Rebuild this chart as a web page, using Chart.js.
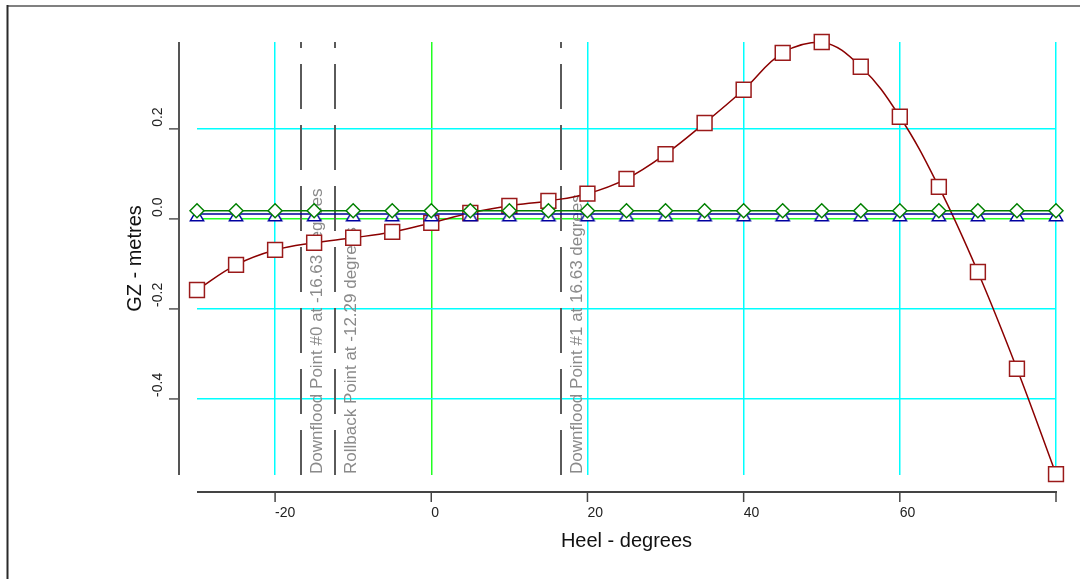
<!DOCTYPE html>
<html>
<head>
<meta charset="utf-8">
<title>GZ curve</title>
<script src="https://cdn.jsdelivr.net/npm/chart.js@4/dist/chart.umd.min.js"></script>
<style>
    html, body { margin: 0; padding: 0; background: #fff; }
    #wrap { width: 1080px; height: 579px; position: relative; }
</style>
</head>
<body>
<div id="wrap"><canvas id="gzChart" width="1080" height="579"></canvas></div>
<script>
// ===== data =====
const heelDeg = [-30, -25, -20, -15, -10, -5, 0, 5, 10, 15, 20, 25, 30, 35, 40, 45, 50, 55, 60, 65, 70, 75, 80];
const gzMetres = [-0.158, -0.102, -0.069, -0.053, -0.042, -0.029, -0.009, 0.013, 0.029, 0.040, 0.056, 0.089,
                  0.144, 0.213, 0.287, 0.369, 0.393, 0.338, 0.227, 0.071, -0.118, -0.333, -0.567];
const blueArm = [0.011, 0.011, 0.011, 0.011, 0.011, 0.011, 0.011, 0.011, 0.011, 0.011, 0.011, 0.011,
                 0.011, 0.011, 0.011, 0.011, 0.011, 0.011, 0.011, 0.011, 0.011, 0.011, 0.011];
const greenArm = [0.018, 0.018, 0.018, 0.018, 0.018, 0.018, 0.018, 0.018, 0.018, 0.018, 0.018, 0.018,
                  0.018, 0.018, 0.018, 0.018, 0.018, 0.018, 0.018, 0.018, 0.018, 0.018, 0.018];

const xRange = [-30, 80];
const yRange = [-0.569, 0.393];
const xTicks = [-20, 0, 20, 40, 60, 80];
const xTickLabels = ['-20', '0', '20', '40', '60', ''];
const yTicks = [-0.4, -0.2, 0.0, 0.2];
const yTickLabels = ['-0.4', '-0.2', '0.0', '0.2'];

const markerAngles = [-16.63, -12.29, 16.63];
const markerLabels = [
    'Downflood Point #0 at -16.63 degrees',
    'Rollback Point at -12.29 degrees',
    'Downflood Point #1 at 16.63 degrees'
];

const FONT = '"Liberation Sans", Arial, sans-serif';

// 三角形标记（底边略低于数据点）
function makeTriangle() {
    const cv = document.createElement('canvas');
    cv.width = 18; cv.height = 22;
    const c = cv.getContext('2d');
    c.beginPath();
    c.moveTo(9, 6.4);
    c.lineTo(15.6, 17.7);
    c.lineTo(2.4, 17.7);
    c.closePath();
    c.fillStyle = '#fff';
    c.fill();
    c.lineWidth = 1.5;
    c.strokeStyle = '#0000a0';
    c.stroke();
    return cv;
}

function toPoints(ys) {
    return heelDeg.map((x, i) => ({ x: x, y: ys[i] }));
}

// ===== 自绘坐标轴、标记线 =====
const offsetAxes = {
    id: 'offsetAxes',
    beforeDraw(chart) {
        const c = chart.ctx;
        c.save();
        c.fillStyle = '#fff';
        c.fillRect(0, 0, chart.width, chart.height);
        c.lineWidth = 2;
        c.strokeStyle = '#808080';
        c.beginPath(); c.moveTo(7, 6); c.lineTo(chart.width, 6); c.stroke();
        c.strokeStyle = '#2a2a2a';
        c.beginPath(); c.moveTo(7.5, 5); c.lineTo(7.5, chart.height); c.stroke();
        c.restore();
    },
    beforeDatasetsDraw(chart) {
        const c = chart.ctx;
        const area = chart.chartArea;
        const xs = chart.scales.x;
        c.save();
        markerAngles.forEach((deg, i) => {
            const px = Math.round(xs.getPixelForValue(deg));
            c.strokeStyle = '#5a5a5a';
            c.lineWidth = 2;
            c.setLineDash([45, 16]);
            c.beginPath();
            c.moveTo(px, area.bottom);
            c.lineTo(px, area.top);
            c.stroke();
            c.setLineDash([]);

            c.save();
            c.translate(px + 21, area.bottom - 1);
            c.rotate(-Math.PI / 2);
            c.font = '17px ' + FONT;
            c.fillStyle = '#8a8a8a';
            c.textAlign = 'left';
            c.textBaseline = 'alphabetic';
            c.fillText(markerLabels[i], 0, 0);
            c.restore();
        });
        c.restore();
    },
    afterDraw(chart) {
        const c = chart.ctx;
        const area = chart.chartArea;
        const xs = chart.scales.x;
        const ys = chart.scales.y;
        const axisY = area.bottom + 17;
        const axisX = area.left - 18;
        c.save();
        c.strokeStyle = '#444';
        c.lineWidth = 2;
        // x axis
        c.beginPath();
        c.moveTo(xs.getPixelForValue(xRange[0]), axisY);
        c.lineTo(xs.getPixelForValue(xRange[1]) + 1, axisY);
        c.stroke();
        c.lineWidth = 1.5;
        xTicks.forEach(v => {
            const px = xs.getPixelForValue(v);
            c.beginPath(); c.moveTo(px, axisY); c.lineTo(px, axisY + 10); c.stroke();
        });
        // y axis
        c.lineWidth = 2;
        c.strokeStyle = '#555';
        c.beginPath();
        c.moveTo(axisX, ys.getPixelForValue(yRange[1]));
        c.lineTo(axisX, ys.getPixelForValue(yRange[0]));
        c.stroke();
        c.lineWidth = 1.5;
        c.font = '14px ' + FONT;
        c.fillStyle = '#222';
        yTicks.forEach((v, i) => {
            const py = ys.getPixelForValue(v);
            c.beginPath(); c.moveTo(axisX - 10, py); c.lineTo(axisX, py); c.stroke();
            c.save();
            c.translate(axisX - 17, py - 2);
            c.rotate(-Math.PI / 2);
            c.textAlign = 'left';
            c.textBaseline = 'alphabetic';
            c.fillText(yTickLabels[i], 0, 0);
            c.restore();
        });
        c.restore();
    }
};

const gridColor = ctx => (ctx.tick && ctx.tick.value === 0) ? '#22ff22' : '#00ffff';

const ctx = document.getElementById('gzChart').getContext('2d');
const gzChart = new Chart(ctx, {
    type: 'line',
    data: {
        datasets: [
            {
                label: 'green',
                data: toPoints(greenArm),
                borderColor: '#008000',
                borderWidth: 1.5,
                pointStyle: 'rectRot',
                pointRadius: 7,
                pointBackgroundColor: '#fff',
                pointBorderColor: '#008000',
                pointBorderWidth: 1.5,
                tension: 0,
                clip: false,
                order: 1
            },
            {
                label: 'blue',
                data: toPoints(blueArm),
                borderColor: '#000099',
                borderWidth: 1.5,
                pointStyle: makeTriangle(),
                pointRadius: 7,
                tension: 0,
                clip: false,
                order: 2
            },
            {
                label: 'GZ',
                data: toPoints(gzMetres),
                borderColor: '#8b0000',
                borderWidth: 1.5,
                pointStyle: 'rect',
                pointRadius: 10.5,
                pointBackgroundColor: '#fff',
                pointBorderColor: '#9a1a1a',
                pointBorderWidth: 1.5,
                tension: 0.4,
                clip: false,
                order: 3
            }
        ]
    },
    options: {
        responsive: false,
        animation: false,
        devicePixelRatio: 1,
        layout: { padding: { left: 0, right: 24, top: 42, bottom: 0 } },
        plugins: {
            legend: { display: false },
            tooltip: { enabled: false }
        },
        scales: {
            x: {
                type: 'linear',
                min: xRange[0],
                max: xRange[1],
                afterBuildTicks: s => { s.ticks = xTicks.map(v => ({ value: v })); },
                afterFit: s => { s.height = 104; s.paddingLeft = 0; s.paddingRight = 0; },
                border: { display: false },
                grid: { color: gridColor, lineWidth: 1.5, drawTicks: false },
                ticks: {
                    autoSkip: false,
                    maxRotation: 0,
                    align: 'start',
                    padding: 30,
                    color: '#222',
                    font: { family: FONT, size: 14 },
                    callback: (v, i) => xTickLabels[i]
                },
                title: {
                    display: true,
                    text: 'Heel - degrees',
                    color: '#111',
                    font: { family: FONT, size: 20 },
                    padding: { top: 0, bottom: 26 }
                }
            },
            y: {
                type: 'linear',
                min: yRange[0],
                max: yRange[1],
                afterBuildTicks: s => { s.ticks = yTicks.map(v => ({ value: v })); },
                afterFit: s => { s.width = 197; s.paddingTop = 0; s.paddingBottom = 0; },
                border: { display: false },
                grid: { color: gridColor, lineWidth: 1.5, drawTicks: false },
                ticks: { display: false },
                title: {
                    display: true,
                    text: 'GZ - metres',
                    color: '#111',
                    font: { family: FONT, size: 20 },
                    padding: { top: 123, bottom: 0 }
                }
            }
        }
    },
    plugins: [offsetAxes]
});
</script>
</body>
</html>
